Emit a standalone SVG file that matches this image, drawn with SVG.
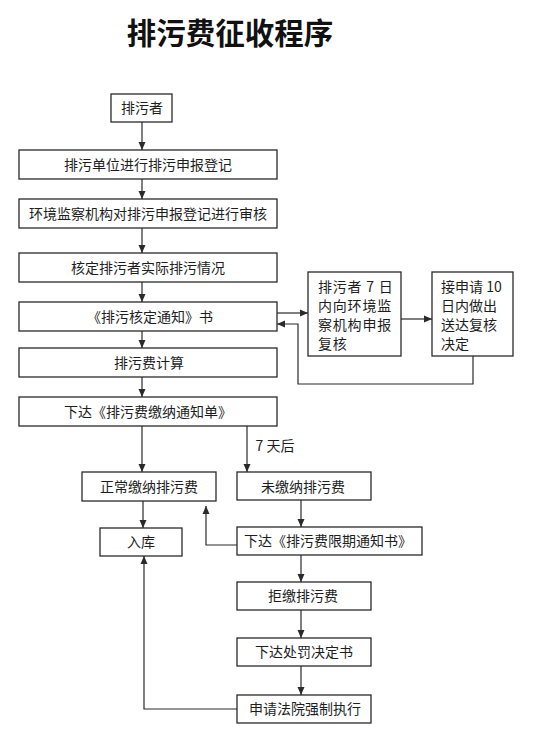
<svg xmlns="http://www.w3.org/2000/svg" width="548" height="732" viewBox="0 0 548 732">
<style>
.box{fill:#fff;stroke:#2a2a2a;stroke-width:1.3}
.t{font-family:"Noto Sans CJK SC","Noto Sans",sans-serif;font-size:14px;fill:#1e1e1e;text-anchor:middle}
.tl{font-family:"Noto Sans CJK SC","Noto Sans",sans-serif;font-size:14px;fill:#1e1e1e;letter-spacing:0.8px}
.tl2{font-family:"Noto Sans CJK SC","Noto Sans",sans-serif;font-size:14px;fill:#1e1e1e}
.title{font-family:"Noto Sans CJK SC",sans-serif;font-size:29.5px;font-weight:bold;fill:#111;text-anchor:middle}
.c{fill:none;stroke:#2a2a2a;stroke-width:1.2}
</style>
<defs>
<marker id="ah" markerUnits="userSpaceOnUse" markerWidth="10" markerHeight="10" viewBox="0 0 10 10" refX="9" refY="5" orient="auto">
<path d="M1,1.5 L9,5 L1,8.5 Z" fill="#2a2a2a"/>
</marker>
</defs>
<rect width="548" height="732" fill="#fff"/>
<text class="title" x="230" y="44">排污费征收程序</text>

<g id="connectors">
<path class="c" d="M142,122 V150" marker-end="url(#ah)"/>
<path class="c" d="M142,179 V199" marker-end="url(#ah)"/>
<path class="c" d="M142,228 V253" marker-end="url(#ah)"/>
<path class="c" d="M142,282 V302" marker-end="url(#ah)"/>
<path class="c" d="M142,331 V348" marker-end="url(#ah)"/>
<path class="c" d="M142,377 V397" marker-end="url(#ah)"/>
<path class="c" d="M142,426 V472" marker-end="url(#ah)"/>
<path class="c" d="M247,426 V472" marker-end="url(#ah)"/>
<path class="c" d="M143,501 V528" marker-end="url(#ah)"/>
<path class="c" d="M301,500 V527" marker-end="url(#ah)"/>
<path class="c" d="M301,555 V582" marker-end="url(#ah)"/>
<path class="c" d="M301,610 V638" marker-end="url(#ah)"/>
<path class="c" d="M301,666 V695" marker-end="url(#ah)"/>
<path class="c" d="M237,709 H144 V556" marker-end="url(#ah)"/>
<path class="c" d="M237,545 H206 V506" marker-end="url(#ah)"/>
<path class="c" d="M277,313 H308" marker-end="url(#ah)"/>
<path class="c" d="M401,319 H432" marker-end="url(#ah)"/>
<path class="c" d="M473,356 V384 H298 V324 H277" marker-end="url(#ah)"/>
<text class="t" x="275" y="451">7 天后</text>
</g>

<g id="n1"><rect class="box" x="111" y="94" width="61" height="28"/><text class="t" x="142" y="113">排污者</text></g>
<g id="n2"><rect class="box" x="19" y="150" width="258" height="29"/><text class="t" x="148" y="170">排污单位进行排污申报登记</text></g>
<g id="n3"><rect class="box" x="19" y="199" width="258" height="29"/><text class="t" x="148" y="219">环境监察机构对排污申报登记进行审核</text></g>
<g id="n4"><rect class="box" x="19" y="253" width="258" height="29"/><text class="t" x="148" y="273">核定排污者实际排污情况</text></g>
<g id="n5"><rect class="box" x="19" y="302" width="258" height="29"/><text class="t" x="150" y="322">《排污核定通知》书</text></g>
<g id="n6"><rect class="box" x="19" y="348" width="258" height="29"/><text class="t" x="149" y="368">排污费计算</text></g>
<g id="n7"><rect class="box" x="19" y="397" width="258" height="29"/><text class="t" x="148" y="417">下达《排污费缴纳通知单》</text></g>
<g id="n8"><rect class="box" x="308" y="272" width="93" height="84"/>
<text class="tl" x="318" y="292">排污者 7 日</text>
<text class="tl" x="318" y="311">内向环境监</text>
<text class="tl" x="318" y="330">察机构申报</text>
<text class="tl" x="318" y="349">复核</text></g>
<g id="n9"><rect class="box" x="432" y="272" width="81" height="84"/>
<text class="tl2" x="441" y="292">接申请 10</text>
<text class="tl2" x="441" y="311">日内做出</text>
<text class="tl2" x="441" y="330">送达复核</text>
<text class="tl2" x="441" y="349">决定</text></g>
<g id="n10"><rect class="box" x="82" y="472" width="134" height="29"/><text class="t" x="149" y="492">正常缴纳排污费</text></g>
<g id="n11"><rect class="box" x="237" y="472" width="134" height="28"/><text class="t" x="303" y="492">未缴纳排污费</text></g>
<g id="n12"><rect class="box" x="100" y="528" width="82" height="28"/><text class="t" x="141" y="547">入库</text></g>
<g id="n13"><rect class="box" x="237" y="527" width="185" height="28"/><text class="t" x="328" y="546">下达《排污费限期通知书》</text></g>
<g id="n14"><rect class="box" x="237" y="582" width="134" height="28"/><text class="t" x="303" y="601">拒缴排污费</text></g>
<g id="n15"><rect class="box" x="237" y="638" width="134" height="28"/><text class="t" x="304" y="657">下达处罚决定书</text></g>
<g id="n16"><rect class="box" x="237" y="695" width="134" height="28"/><text class="t" x="305" y="714">申请法院强制执行</text></g>
</svg>
